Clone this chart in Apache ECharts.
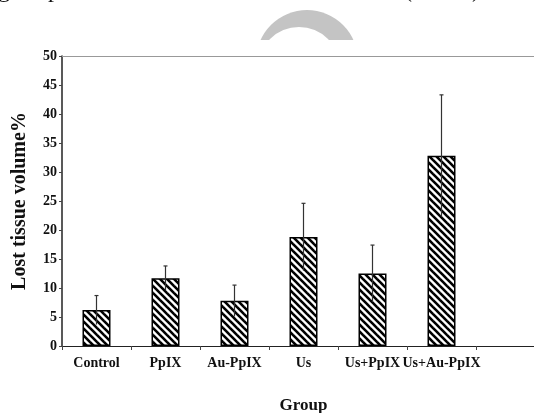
<!DOCTYPE html>
<html>
<head>
<meta charset="utf-8">
<script src="https://cdn.jsdelivr.net/npm/echarts@6/dist/echarts.min.js"></script>
<style>
html,body{margin:0;padding:0;background:#fff;}
#chart{width:534px;height:413px;}
</style>
</head>
<body>
<div id="chart"></div>
<script>
const categories = ['Control', 'PpIX', 'Au-PpIX', 'Us', 'Us+PpIX', 'Us+Au-PpIX'];
const meanValues = [6.2, 11.7, 7.8, 18.8, 12.5, 32.8];
const errorValues = [2.5, 2.1, 2.7, 5.8, 4.9, 10.5];
const yTicks = [0, 5, 10, 15, 20, 25, 30, 35, 40, 45, 50];

// hatch pattern
const tile = document.createElement('canvas');
tile.width = 7; tile.height = 7;
const tc = tile.getContext('2d');
tc.fillStyle = '#fff'; tc.fillRect(0, 0, 7, 7);
tc.strokeStyle = '#000'; tc.lineWidth = 2.6;
for (let k = -7; k <= 7; k += 7) {
  tc.beginPath(); tc.moveTo(k - 1, -1); tc.lineTo(k + 8, 8); tc.stroke();
}

const axisCats = categories.concat(['']);
const errData = meanValues.map((m, i) => [i, m - errorValues[i], m + errorValues[i]]);
const serif = '"Liberation Serif", "Times New Roman", serif';
const cutText = (t, x) => ({type: 'text', x: x, y: 3, z: -5,
  style: {text: t, font: '24px "Liberation Serif"', fill: '#111', verticalAlign: 'bottom', align: 'left'}});

const chart = echarts.init(document.getElementById('chart'), null, {renderer: 'canvas'});
chart.setOption({
  animation: false,
  backgroundColor: '#fff',
  grid: {left: 62, top: 56, bottom: 67, width: 483, containLabel: false, outerBoundsMode: 'none', show: false},
  xAxis: [{
    type: 'category',
    data: axisCats,
    boundaryGap: true,
    name: 'Group',
    nameLocation: 'middle',
    nameGap: 51,
    nameTextStyle: {fontFamily: serif, fontWeight: 'bold', fontSize: 17, color: '#111'},
    axisLine: {lineStyle: {color: '#222', width: 1}},
    axisTick: {show: true, length: 4, alignWithLabel: false, lineStyle: {color: '#444'}},
    axisLabel: {fontFamily: serif, fontWeight: 'bold', fontSize: 14, color: '#111', margin: 10, interval: 0},
    splitLine: {show: false}
  }, {
    type: 'category',
    position: 'top',
    data: axisCats,
    axisLine: {show: true, lineStyle: {color: '#999', width: 1}},
    axisTick: {show: false},
    axisLabel: {show: false},
    splitLine: {show: false}
  }],
  yAxis: {
    type: 'value',
    min: 0, max: 50, interval: 5,
    name: 'Lost tissue volume%',
    nameLocation: 'middle',
    nameGap: 32,
    nameTextStyle: {fontFamily: serif, fontWeight: 'bold', fontSize: 20, color: '#111'},
    axisLine: {show: true, lineStyle: {color: '#222', width: 1.5}},
    axisTick: {show: true, length: 3, lineStyle: {color: '#444'}},
    axisLabel: {fontFamily: serif, fontWeight: 'bold', fontSize: 14, color: '#111', margin: 5,
      formatter: v => yTicks.indexOf(v) >= 0 ? String(v) : ''},
    splitLine: {show: false}
  },
  graphic: [
    {type: 'circle', z: -10, shape: {cx: 307, cy: 61, r: 51}, style: {fill: '#c4c4c4'}},
    {type: 'circle', z: -9, shape: {cx: 299, cy: 68, r: 41}, style: {fill: '#fff'}},
    {type: 'rect', z: -8, shape: {x: 230, y: 40, width: 160, height: 90}, style: {fill: '#fff'}},
    cutText('g', -2),
    cutText('p', 48),
    cutText('(', 404),
    cutText(')', 472)
  ],
  series: [
    {
      type: 'bar',
      data: meanValues,
      barWidth: 28,
      itemStyle: {color: {image: tile, repeat: 'repeat'}, borderColor: '#000', borderWidth: 1.5},
      z: 2
    },
    {
      type: 'custom',
      z: 5,
      data: errData,
      renderItem: function (params, api) {
        const x = api.value(0);
        const lo = api.coord([x, api.value(1)]);
        const hi = api.coord([x, api.value(2)]);
        const st = {stroke: '#333', lineWidth: 1.2};
        return {
          type: 'group',
          children: [
            {type: 'line', shape: {x1: lo[0], y1: lo[1], x2: hi[0], y2: hi[1]}, style: st},
            {type: 'line', shape: {x1: hi[0] - 2, y1: hi[1], x2: hi[0] + 2, y2: hi[1]}, style: st}
          ]
        };
      }
    }
  ]
});
</script>
</body>
</html>
